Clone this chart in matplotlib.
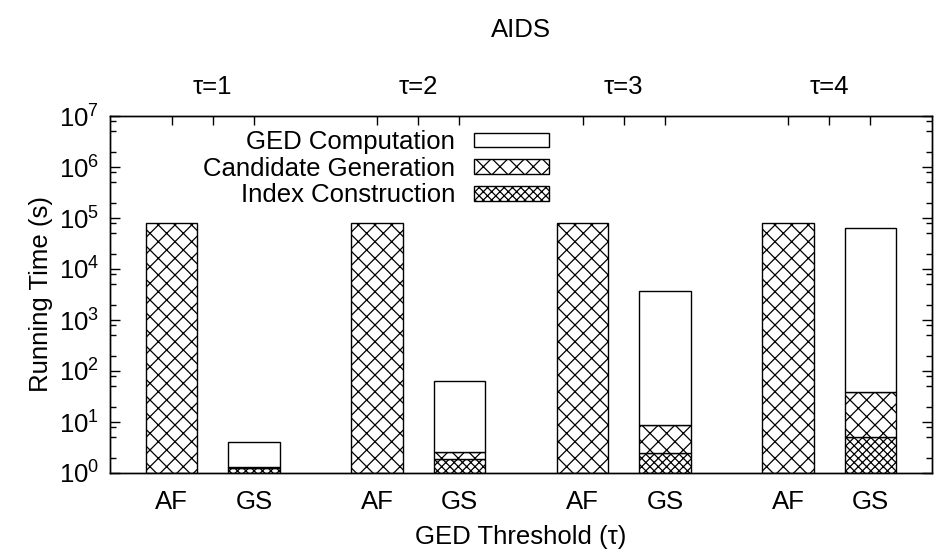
import numpy as np
import matplotlib
matplotlib.use('Agg')
import matplotlib.pyplot as plt
from matplotlib.ticker import LogLocator, NullFormatter
from matplotlib.patches import Patch

plt.rcParams['font.family'] = ['Liberation Sans', 'DejaVu Sans']
plt.rcParams['mathtext.default'] = 'regular'
plt.rcParams['hatch.linewidth'] = 0.9
plt.rcParams['hatch.color'] = 'black'

# data (seconds)
thresholds = ['τ=1', 'τ=2', 'τ=3', 'τ=4']
methods = ['AF', 'GS']
af_candidate = [8.0e4, 8.0e4, 8.0e4, 8.0e4]
gs_index = [1.25, 1.85, 2.47, 5.0]
gs_candidate = [0.05, 0.77, 6.2, 33.0]
gs_ged = [2.8, 62.0, 3750.0, 64400.0]

FS = 18.5
HATCH_CAND = 'xx'
HATCH_IDX = 'xxxx'

fig = plt.figure(figsize=(9.38, 5.57), dpi=100)
ax = fig.add_axes([110/938, 84/557, 822/938, 357/557])

group_x = np.arange(len(thresholds)) * 5
af_x = group_x
gs_x = group_x + 2
w = 1.25

# AF: only candidate generation
ax.bar(af_x, np.array(af_candidate) - 1, bottom=1, width=w, facecolor='white',
       edgecolor='black', hatch=HATCH_CAND, linewidth=1)

# GS: stacked index / candidate / GED
idx_top = np.array(gs_index)
cand_top = idx_top + np.array(gs_candidate)
ged_top = cand_top + np.array(gs_ged)
ax.bar(gs_x, idx_top - 1, bottom=1, width=w, facecolor='white',
       edgecolor='black', hatch=HATCH_IDX, linewidth=1)
ax.bar(gs_x, cand_top - idx_top, bottom=idx_top, width=w, facecolor='white',
       edgecolor='black', hatch=HATCH_CAND, linewidth=1)
ax.bar(gs_x, ged_top - cand_top, bottom=cand_top, width=w, facecolor='white',
       edgecolor='black', linewidth=1)

ax.set_yscale('log')
ax.set_ylim(1, 1e7)
ax.set_xlim(-1.5, 18.5)
ax.yaxis.set_major_locator(LogLocator(base=10, numticks=10))
ax.yaxis.set_minor_locator(LogLocator(base=10, subs=[2, 5, 8], numticks=10))
ax.yaxis.set_minor_formatter(NullFormatter())
ax.tick_params(axis='y', which='major', direction='in', length=7.2, width=1,
               right=True, labelsize=FS, pad=8)
ax.tick_params(axis='y', which='minor', direction='in', length=4, width=1, right=True)

bottom_ticks = np.sort(np.concatenate([af_x, gs_x]))
ax.set_xticks(bottom_ticks)
ax.set_xticklabels(methods * len(thresholds))
ax.tick_params(axis='x', length=0, labelsize=FS, pad=12)

# top axis with tau labels
ax2 = ax.twiny()
ax2.set_xlim(ax.get_xlim())
top_ticks = np.sort(np.concatenate([group_x, group_x + 1, group_x + 2]))
top_labels = []
for t in thresholds:
    top_labels += ['', t, '']
ax2.set_xticks(top_ticks)
ax2.set_xticklabels(top_labels)
ax2.tick_params(axis='x', direction='in', length=6.5, width=1, labelsize=FS, pad=12)

for a in (ax, ax2):
    for s in a.spines.values():
        s.set_linewidth(1)

ax.set_ylabel('Running Time (s)', fontsize=FS, labelpad=4)
ax.set_xlabel('GED Threshold (τ)', fontsize=FS, labelpad=8)
fig.text(521/938, 1 - 30/557, 'AIDS', ha='center', va='center', fontsize=FS)

handles = [Patch(facecolor='white', edgecolor='black', label='GED Computation'),
           Patch(facecolor='white', edgecolor='black', hatch=HATCH_CAND, label='Candidate Generation'),
           Patch(facecolor='white', edgecolor='black', hatch=HATCH_IDX, label='Index Construction')]
ax.legend(handles=handles, loc='upper right', bbox_to_anchor=((549-110)/822, 0.96),
          frameon=False, fontsize=FS, markerfirst=False, handlelength=2.9,
          handleheight=0.5, handletextpad=0.75, labelspacing=0.1,
          borderpad=0, borderaxespad=0)

fig.savefig('out.png', dpi=100)
